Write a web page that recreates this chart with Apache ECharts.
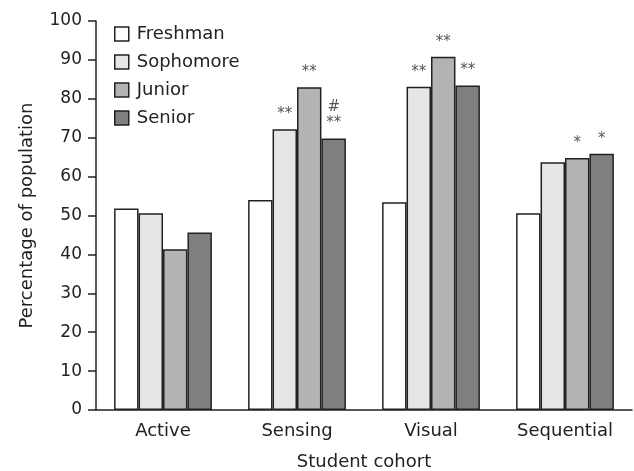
<!DOCTYPE html>
<html><head><meta charset="utf-8">
<script src="https://cdn.jsdelivr.net/npm/echarts@6/dist/echarts.min.js"></script>
<style>html,body{margin:0;padding:0;background:#fff}#c{width:634px;height:471px}</style>
</head><body><div id="c"></div>
<script>
var categories = ['Active', 'Sensing', 'Visual', 'Sequential'];
var seriesNames = ['Freshman', 'Sophomore', 'Junior', 'Senior'];
var freshman = [51.8, 54.0, 53.4, 50.6];
var sophomore = [50.6, 72.2, 83.1, 63.7];
var junior = [41.3, 83.0, 90.8, 64.8];
var senior = [45.6, 69.8, 83.4, 65.9];
var freshmanMarks = ['', '', '', ''];
var sophomoreMarks = ['', '**', '**', ''];
var juniorMarks = ['', '**', '**', '*'];
var seniorMarks = ['', '#\n**', '**', '*'];
var yTicks = [0, 10, 20, 30, 40, 50, 60, 70, 80, 90, 100];

var colors = ['#ffffff', '#e6e6e6', '#b3b3b3', '#7f7f7f'];
var values = [freshman, sophomore, junior, senior];
var marks = [freshmanMarks, sophomoreMarks, juniorMarks, seniorMarks];
var font = 'DejaVu Sans, sans-serif';

var series = seriesNames.map(function (n, i) {
  return {
    name: n, type: 'bar', data: values[i],
    barGap: '0%', barCategoryGap: '27%',
    itemStyle: { color: colors[i], borderColor: '#222', borderWidth: 1.5 },
    label: {
      show: true, position: 'top', distance: 7,
      color: '#555', fontSize: 15, fontFamily: font, lineHeight: 16,
      formatter: function (p) { return marks[i][p.dataIndex]; }
    },
    emphasis: { disabled: true }
  };
});

var chart = echarts.init(document.getElementById('c'), null, { renderer: 'canvas' });
chart.setOption({
  animation: false,
  backgroundColor: '#fff',
  textStyle: { fontFamily: font },
  legend: {
    orient: 'vertical', left: 109, top: 20,
    itemWidth: 14, itemHeight: 14, itemGap: 10,
    icon: 'rect',
    data: seriesNames,
    textStyle: { fontSize: 18, color: '#222', fontFamily: font, padding: [0, 0, 0, 3] },
    itemStyle: { borderColor: '#222', borderWidth: 1.5 }
  },
  grid: { left: 96, right: 2, top: 21, bottom: 61, containLabel: false, outerBoundsMode: 'none' },
  xAxis: {
    type: 'category', data: categories,
    name: 'Student cohort', nameLocation: 'middle', nameGap: 43,
    nameTextStyle: { fontSize: 18, color: '#222', fontFamily: font },
    axisLine: { lineStyle: { color: '#222', width: 1.5 } },
    axisTick: { show: false },
    axisLabel: { fontSize: 18, color: '#222', margin: 12, fontFamily: font }
  },
  yAxis: {
    type: 'value', min: 0, max: 100, interval: 10,
    name: 'Percentage of population', nameLocation: 'middle', nameGap: 60,
    nameTextStyle: { fontSize: 18, color: '#222', fontFamily: font },
    axisLine: { show: true, lineStyle: { color: '#222', width: 1.5 } },
    axisTick: { show: true, length: 8, lineStyle: { color: '#222', width: 1.5 } },
    splitLine: { show: false },
    axisLabel: {
      fontSize: 17, color: '#222', margin: 14, fontFamily: font,
      formatter: function (v) { return yTicks.indexOf(v) >= 0 ? String(v) : ''; }
    }
  },
  series: series
});
</script></body></html>
